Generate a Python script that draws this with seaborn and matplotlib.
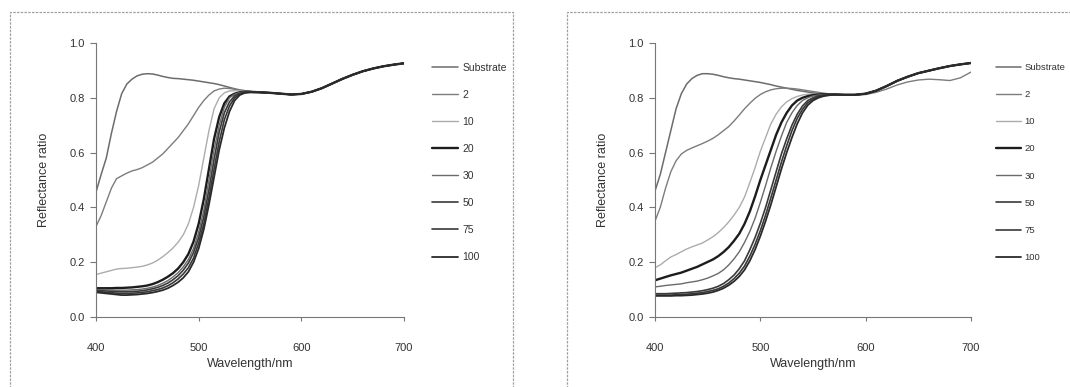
import numpy as np
import pandas as pd
import matplotlib
matplotlib.use("Agg")
import matplotlib.pyplot as plt
import seaborn as sns
from matplotlib.patches import Rectangle

# ---------------- data ----------------
wavelength_head = [400, 405, 410, 415, 420, 425, 430, 435, 440, 445, 450, 455, 460, 465, 470,
                   475, 480, 485, 490, 495, 500, 505, 510, 515, 520, 525, 530, 535, 540, 545,
                   550, 555, 560]
wavelength_tail = [570, 580, 590, 600, 610, 620, 630, 640, 650, 660, 670, 680, 690, 700]

series_names = ["Substrate", "2", "10", "20", "30", "50", "75", "100"]

# left panel
left_substrate = [0.456, 0.52, 0.58, 0.67, 0.75, 0.815, 0.85, 0.868, 0.88, 0.886, 0.888, 0.887, 0.883, 0.878, 0.874,
                  0.871, 0.870, 0.868, 0.866, 0.864, 0.861, 0.858, 0.855, 0.852, 0.848, 0.843, 0.838, 0.833, 0.829, 0.826,
                  0.823, 0.821, 0.82]
left_2 = [0.33, 0.37, 0.42, 0.47, 0.505, 0.515, 0.525, 0.533, 0.538, 0.545, 0.555, 0.565, 0.58, 0.595, 0.615,
          0.635, 0.655, 0.68, 0.705, 0.735, 0.765, 0.79, 0.81, 0.825, 0.832, 0.835, 0.834, 0.831, 0.828, 0.825,
          0.823, 0.821, 0.82]
left_10 = [0.155, 0.16, 0.165, 0.17, 0.175, 0.177, 0.178, 0.18, 0.182, 0.185, 0.19, 0.197, 0.207, 0.22, 0.235,
           0.252, 0.273, 0.30, 0.34, 0.40, 0.48, 0.58, 0.68, 0.76, 0.80, 0.818, 0.825, 0.826, 0.825, 0.823,
           0.822, 0.821, 0.82]
left_20 = [0.105, 0.105, 0.105, 0.105, 0.106, 0.106, 0.107, 0.108, 0.11, 0.112, 0.115, 0.12, 0.127, 0.136, 0.147,
           0.16, 0.177, 0.20, 0.23, 0.275, 0.34, 0.43, 0.54, 0.65, 0.73, 0.78, 0.805, 0.815, 0.82, 0.822,
           0.822, 0.821, 0.82]
left_30 = [0.10, 0.10, 0.10, 0.099, 0.098, 0.098, 0.098, 0.099, 0.10, 0.102, 0.105, 0.109, 0.115, 0.123, 0.133,
           0.146, 0.162, 0.183, 0.21, 0.25, 0.31, 0.39, 0.50, 0.61, 0.70, 0.765, 0.80, 0.813, 0.819, 0.821,
           0.822, 0.821, 0.82]
left_50 = [0.097, 0.096, 0.095, 0.094, 0.093, 0.092, 0.092, 0.093, 0.094, 0.096, 0.099, 0.103, 0.108, 0.115, 0.124,
           0.136, 0.151, 0.171, 0.197, 0.235, 0.29, 0.365, 0.465, 0.575, 0.675, 0.745, 0.785, 0.807, 0.816, 0.82,
           0.821, 0.821, 0.82]
left_75 = [0.093, 0.092, 0.09, 0.089, 0.087, 0.086, 0.086, 0.087, 0.088, 0.09, 0.092, 0.096, 0.10, 0.106, 0.114,
           0.125, 0.139, 0.157, 0.18, 0.215, 0.27, 0.34, 0.435, 0.54, 0.64, 0.72, 0.77, 0.80, 0.813, 0.819,
           0.82, 0.82, 0.82]
left_100 = [0.09, 0.088, 0.086, 0.084, 0.082, 0.08, 0.08, 0.081, 0.082, 0.084, 0.086, 0.089, 0.093, 0.098, 0.105,
            0.115, 0.127, 0.143, 0.165, 0.20, 0.25, 0.32, 0.41, 0.51, 0.61, 0.69, 0.75, 0.79, 0.81, 0.818,
            0.82, 0.82, 0.82]
left_tail = [0.818, 0.815, 0.812, 0.814, 0.822, 0.835, 0.852, 0.869, 0.884, 0.897, 0.907, 0.915, 0.921, 0.926]

# right panel
right_substrate = [0.46, 0.52, 0.60, 0.68, 0.76, 0.815, 0.85, 0.87, 0.882, 0.888, 0.888, 0.886, 0.882, 0.877, 0.873,
                   0.870, 0.868, 0.865, 0.862, 0.859, 0.856, 0.852, 0.848, 0.843, 0.839, 0.835, 0.831, 0.827, 0.824, 0.821,
                   0.818, 0.816, 0.814]
right_2 = [0.35, 0.40, 0.47, 0.53, 0.57, 0.595, 0.608, 0.617, 0.625, 0.633, 0.642, 0.652, 0.665, 0.68, 0.695,
           0.715, 0.737, 0.76, 0.78, 0.798, 0.812, 0.822, 0.829, 0.833, 0.835, 0.835, 0.834, 0.832, 0.829, 0.826,
           0.823, 0.82, 0.817]
right_10 = [0.18, 0.19, 0.205, 0.219, 0.228, 0.238, 0.248, 0.256, 0.263, 0.27, 0.281, 0.293, 0.308, 0.326, 0.347,
            0.372, 0.40, 0.438, 0.49, 0.545, 0.605, 0.655, 0.705, 0.74, 0.767, 0.785, 0.797, 0.805, 0.81, 0.813,
            0.814, 0.814, 0.814]
right_20 = [0.134, 0.14, 0.146, 0.152, 0.157, 0.162, 0.169, 0.176, 0.183, 0.192, 0.201, 0.21, 0.222, 0.237, 0.255,
            0.278, 0.304, 0.34, 0.385, 0.44, 0.50, 0.555, 0.61, 0.665, 0.71, 0.745, 0.772, 0.79, 0.80, 0.806,
            0.81, 0.812, 0.813]
right_30 = [0.11, 0.112, 0.115, 0.117, 0.119, 0.121, 0.125, 0.128, 0.131, 0.136, 0.142, 0.15, 0.159, 0.172, 0.19,
            0.212, 0.238, 0.272, 0.312, 0.36, 0.418, 0.48, 0.545, 0.605, 0.66, 0.71, 0.745, 0.772, 0.79, 0.80,
            0.807, 0.81, 0.812]
right_50 = [0.085, 0.085, 0.085, 0.086, 0.087, 0.088, 0.089, 0.091, 0.093, 0.096, 0.10, 0.105, 0.112, 0.122, 0.136,
            0.153, 0.176, 0.205, 0.245, 0.29, 0.342, 0.40, 0.465, 0.53, 0.595, 0.65, 0.70, 0.74, 0.77, 0.79,
            0.80, 0.807, 0.81]
right_75 = [0.08, 0.08, 0.08, 0.08, 0.081, 0.082, 0.083, 0.085, 0.087, 0.089, 0.093, 0.097, 0.103, 0.112, 0.124,
            0.14, 0.16, 0.186, 0.222, 0.265, 0.315, 0.372, 0.435, 0.50, 0.565, 0.625, 0.68, 0.725, 0.758, 0.782,
            0.795, 0.804, 0.809]
right_100 = [0.077, 0.077, 0.077, 0.077, 0.078, 0.078, 0.079, 0.08, 0.082, 0.084, 0.087, 0.091, 0.097, 0.105, 0.116,
             0.13, 0.148, 0.172, 0.205, 0.246, 0.295, 0.35, 0.41, 0.475, 0.54, 0.60, 0.655, 0.705, 0.745, 0.773,
             0.79, 0.80, 0.806]
right_tail = [0.812, 0.811, 0.811, 0.815, 0.826, 0.843, 0.862, 0.877, 0.89, 0.899, 0.908, 0.916, 0.922, 0.927]
right_tail_2 = [0.812, 0.811, 0.81, 0.812, 0.82, 0.832, 0.847, 0.858, 0.865, 0.868, 0.866, 0.863, 0.873, 0.894]

x_ticks = [400, 500, 600, 700]
y_ticks = [0.0, 0.2, 0.4, 0.6, 0.8, 1.0]

# ---------------- styles ----------------
colors = {"Substrate": "#6c6c6c", "2": "#7c7c7c", "10": "#acacac", "20": "#1c1c1c",
          "30": "#6a6a6a", "50": "#3a3a3a", "75": "#383838", "100": "#2a2a2a"}
widths = {"Substrate": 1.1, "2": 1.0, "10": 1.0, "20": 1.7,
          "30": 1.0, "50": 1.2, "75": 1.2, "100": 1.3}

sns.set_style("ticks")
plt.rcParams["font.family"] = ["Liberation Sans", "DejaVu Sans"]
plt.rcParams["text.color"] = "#333333"

fig = plt.figure(figsize=(10.7, 3.87), dpi=100)
W, H = 1070.0, 387.0

def axes_px(x0, x1, ytop, ybot):
    return fig.add_axes([x0 / W, 1 - ybot / H, (x1 - x0) / W, (ybot - ytop) / H])

ax_l = axes_px(96, 404, 43, 317)
ax_r = axes_px(655, 971, 43, 317)

left_data = {"Substrate": (left_substrate, left_tail), "2": (left_2, left_tail),
             "10": (left_10, left_tail), "20": (left_20, left_tail), "30": (left_30, left_tail),
             "50": (left_50, left_tail), "75": (left_75, left_tail), "100": (left_100, left_tail)}
right_data = {"Substrate": (right_substrate, right_tail), "2": (right_2, right_tail_2),
              "10": (right_10, right_tail), "20": (right_20, right_tail), "30": (right_30, right_tail),
              "50": (right_50, right_tail), "75": (right_75, right_tail), "100": (right_100, right_tail)}

wl_all = wavelength_head + wavelength_tail

# (axes, data, legend left px, legend font size, label spacing, handle length)
panels = [(ax_l, left_data, 432, 7.5, 1.64, 2.5),
          (ax_r, right_data, 996, 6.8, 1.92, 2.6)]

for ax, data, leg_x, leg_fs, leg_sp, leg_hl in panels:
    rows = []
    for name in series_names:
        head, tail = data[name]
        for w, v in zip(wl_all, list(head) + list(tail)):
            rows.append({"Wavelength": w, "Reflectance": v, "Series": name})
    df = pd.DataFrame(rows)
    for name in series_names:
        sns.lineplot(data=df[df["Series"] == name], x="Wavelength", y="Reflectance",
                     ax=ax, color=colors[name], linewidth=widths[name], label=name,
                     estimator=None, sort=False)
    ax.set_xlim(400, 700)
    ax.set_ylim(0, 1.0)
    ax.set_xticks(x_ticks)
    ax.set_yticks(y_ticks)
    ax.set_yticklabels([f"{t:.1f}" for t in y_ticks])
    ax.tick_params(axis="x", direction="out", length=3, width=0.8, colors="#777777",
                   labelcolor="#333333", labelsize=8, pad=16)
    ax.tick_params(axis="y", direction="out", length=4, width=0.8, colors="#777777",
                   labelcolor="#333333", labelsize=8, pad=4)
    for s in ["top", "right"]:
        ax.spines[s].set_visible(False)
    for s in ["left", "bottom"]:
        ax.spines[s].set_color("#777777")
        ax.spines[s].set_linewidth(0.8)
    ax.set_xlabel("Wavelength/nm", fontsize=9, color="#333333", labelpad=3)
    ax.set_ylabel("Reflectance ratio", fontsize=9, color="#333333", labelpad=14)
    ax.patch.set_alpha(0)
    top_px = 68 - 0.52 * leg_fs * 100 / 72
    leg = ax.legend(loc="upper left", bbox_to_anchor=(leg_x / W, 1 - top_px / H),
                    bbox_transform=fig.transFigure, frameon=False, fontsize=leg_fs,
                    handlelength=leg_hl, handletextpad=0.4, labelspacing=leg_sp,
                    borderpad=0, borderaxespad=0)
    for t in leg.get_texts():
        t.set_color("#333333")

# outer chart-area frames
fig.add_artist(Rectangle((10 / W, -0.05), (513 - 10) / W, 1.05 - 12 / H,
                         transform=fig.transFigure, fill=False,
                         edgecolor="#a0a0a0", linewidth=0.9, linestyle=(0, (2, 1))))
fig.add_artist(Rectangle((567 / W, -0.05), (1100 - 567) / W, 1.05 - 12 / H,
                         transform=fig.transFigure, fill=False,
                         edgecolor="#a0a0a0", linewidth=0.9, linestyle=(0, (2, 1))))

fig.savefig("out.png", dpi=100)
